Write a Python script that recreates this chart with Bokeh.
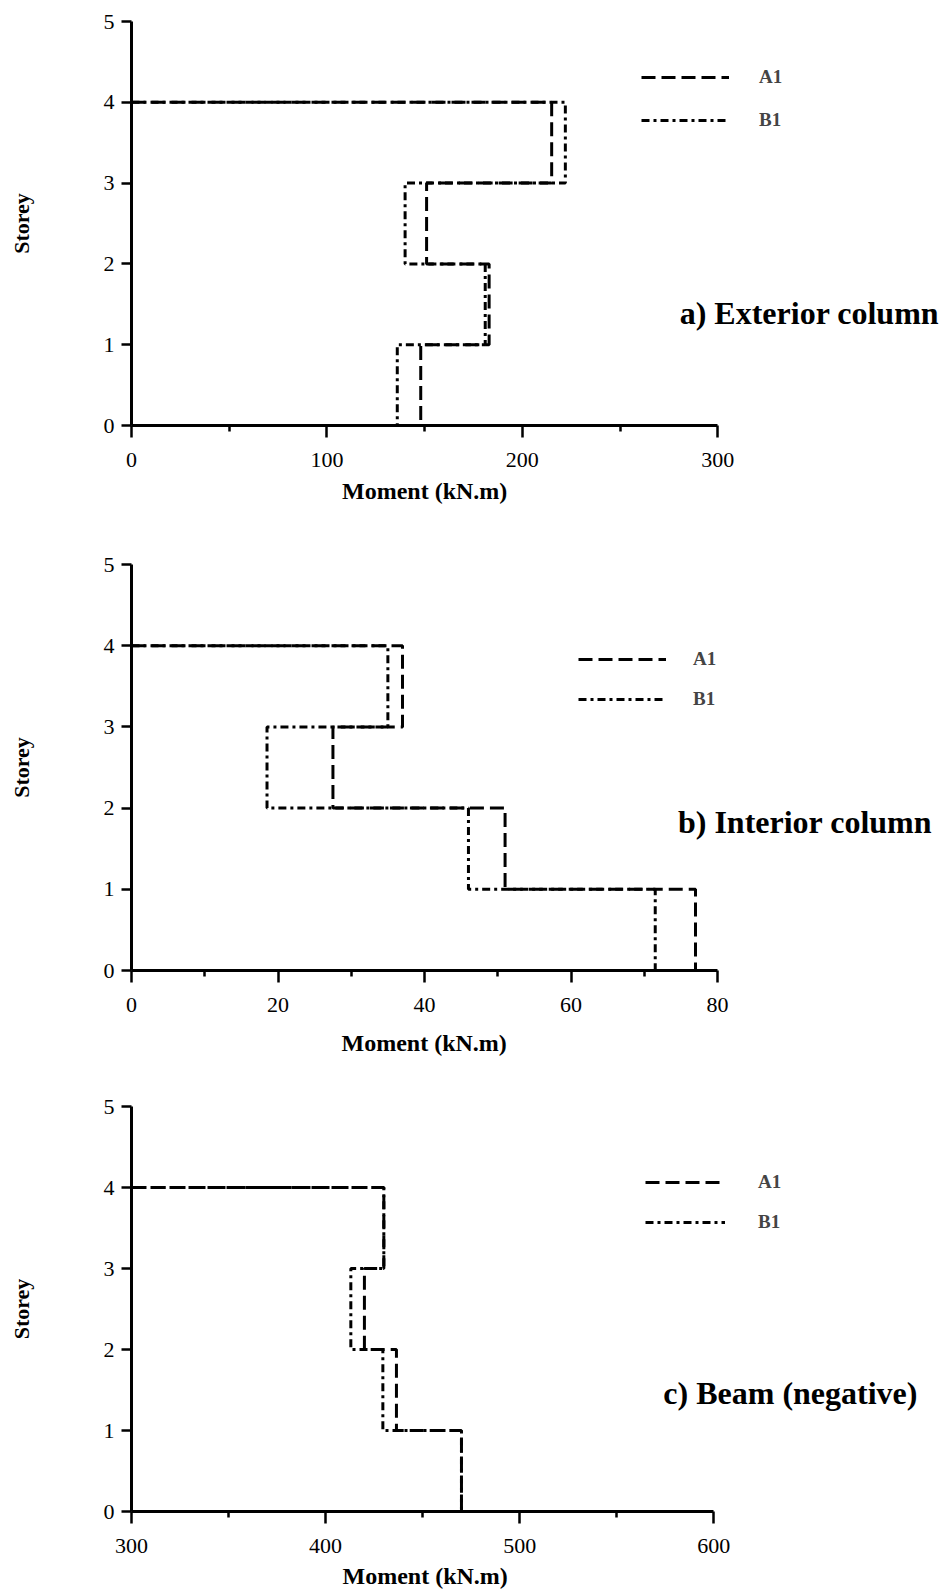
from bokeh.plotting import figure
from bokeh.models import Range1d, FixedTicker, Legend, LegendItem, Label, Title
from bokeh.layouts import column
from bokeh.embed import file_html
from bokeh.resources import INLINE

# ---------------- data (storeys 1..4) ----------------
storeys = [1, 2, 3, 4]

ext_A1 = [148, 183, 151, 215]
ext_B1 = [136, 181, 140, 222]

int_A1 = [77, 51, 27.5, 37]
int_B1 = [71.5, 46, 18.5, 35]

beam_A1 = [470, 436.5, 420, 430]
beam_B1 = [470, 429.5, 413, 430]

y_ticks = [0, 1, 2, 3, 4, 5]
ext_xticks = [0, 100, 200, 300]
ext_xminor = [50, 150, 250]
int_xticks = [0, 20, 40, 60, 80]
int_xminor = [10, 30, 50, 70]
beam_xticks = [300, 400, 500, 600]
beam_xminor = [350, 450, 550]

series_names = ["A1", "B1"]
titles = ["a) Exterior column", "b) Interior column", "c) Beam (negative)"]
x_label = "Moment (kN.m)"
y_label = "Storey"

FONT = "Liberation Serif"
DASH_A = "14 6"
DASH_B = "8 4 3 4"
PAGE_W = 947
XLABEL_HALF_W = 83   # about half the rendered width of the x caption


def step_path(values, x0):
    xs = [x0]
    ys = [storeys[-1]]
    for s in reversed(storeys):
        v = values[s - 1]
        xs += [v, v]
        ys += [s, s - 1]
    return xs, ys


def make_panel(a_vals, b_vals, xticks, xminor, title, height, left, axis_px,
               top, bottom, leg_loc, glyph_w, leg_standoff, leg_spacing,
               title_pos, xlab_standoff):
    xmin, xmax = xticks[0], xticks[-1]
    # the frame runs to the page's right edge so that legend and caption are
    # not clipped; the x axis itself is drawn only over [xmin, xmax]
    frame_w = PAGE_W - left
    x_end = xmin + (xmax - xmin) * frame_w / axis_px
    p = figure(width=PAGE_W, height=height,
               x_range=Range1d(xmin, x_end),
               y_range=Range1d(y_ticks[0], y_ticks[-1]),
               output_backend="svg", toolbar_location=None,
               min_border_left=left, min_border_right=0,
               min_border_top=top, min_border_bottom=bottom)
    p.grid.visible = False
    p.outline_line_color = None
    p.background_fill_color = "white"
    p.border_fill_color = "white"

    xa, ya = step_path(a_vals, xmin)
    xb, yb = step_path(b_vals, xmin)
    rb = p.line(xb, yb, line_color="black", line_width=3, line_dash=DASH_B)
    ra = p.line(xa, ya, line_color="black", line_width=3, line_dash=DASH_A)

    # axes
    p.xaxis.ticker = FixedTicker(ticks=xticks, minor_ticks=xminor)
    p.xaxis.bounds = (xmin, xmax)
    p.yaxis.ticker = FixedTicker(ticks=y_ticks)
    for ax in (p.xaxis[0], p.yaxis[0]):
        ax.axis_line_width = 3
        ax.axis_line_color = "black"
        ax.major_tick_line_width = 2.5
        ax.major_tick_in = 0
        ax.minor_tick_line_width = 2.5
        ax.minor_tick_in = 0
        ax.major_label_text_font = FONT
        ax.major_label_text_font_size = "22px"
        ax.major_label_text_color = "black"
        ax.axis_label_text_font = FONT
        ax.axis_label_text_font_style = "bold"
        ax.axis_label_text_color = "black"
    p.xaxis.major_tick_out = 12
    p.xaxis.minor_tick_out = 6
    p.xaxis.major_label_standoff = 15
    p.yaxis.major_tick_out = 10
    p.yaxis.minor_tick_out = 0
    p.yaxis.major_label_standoff = 7
    p.yaxis.axis_label = y_label
    p.yaxis.axis_label_text_font_size = "22px"
    p.yaxis.axis_label_standoff = 67

    # x-axis caption, centred under the drawn part of the axis
    p.add_layout(Title(text=x_label, align="left",
                       offset=axis_px / 2 - XLABEL_HALF_W,
                       standoff=xlab_standoff, text_font=FONT,
                       text_font_style="bold", text_font_size="24px",
                       text_color="black"), "below")

    legend = Legend(items=[LegendItem(label=series_names[0], renderers=[ra]),
                           LegendItem(label=series_names[1], renderers=[rb])],
                    location=leg_loc, glyph_width=glyph_w, glyph_height=20,
                    label_height=20, label_standoff=leg_standoff,
                    spacing=leg_spacing, padding=0, margin=0,
                    border_line_color=None, background_fill_alpha=0,
                    label_text_font=FONT, label_text_font_style="bold",
                    label_text_font_size="19px")
    p.add_layout(legend)

    p.add_layout(Label(x=title_pos[0], y=title_pos[1], text=title,
                       text_font=FONT, text_font_style="bold",
                       text_font_size="32px", text_align="left",
                       text_baseline="middle", text_color="black"))
    return p


pa = make_panel(ext_A1, ext_B1, ext_xticks, ext_xminor, titles[0],
                height=515, left=130, axis_px=587, top=21, bottom=90,
                leg_loc=(510, 294), glyph_w=88, leg_standoff=30, leg_spacing=21,
                title_pos=(280.5, 1.39), xlab_standoff=13)
pb = make_panel(int_A1, int_B1, int_xticks, int_xminor, titles[1],
                height=554, left=131, axis_px=586, top=49, bottom=99,
                leg_loc=(447, 260), glyph_w=88, leg_standoff=27, leg_spacing=18,
                title_pos=(74.6, 1.83), xlab_standoff=26)
pc = make_panel(beam_A1, beam_B1, beam_xticks, beam_xminor, titles[2],
                height=525, left=123, axis_px=588, top=37, bottom=83,
                leg_loc=(514, 278), glyph_w=80, leg_standoff=33, leg_spacing=18,
                title_pos=(574, 1.46), xlab_standoff=10)

layout = column(pa, pb, pc, spacing=0)
open("out.html", "w").write(file_html(layout, INLINE))
